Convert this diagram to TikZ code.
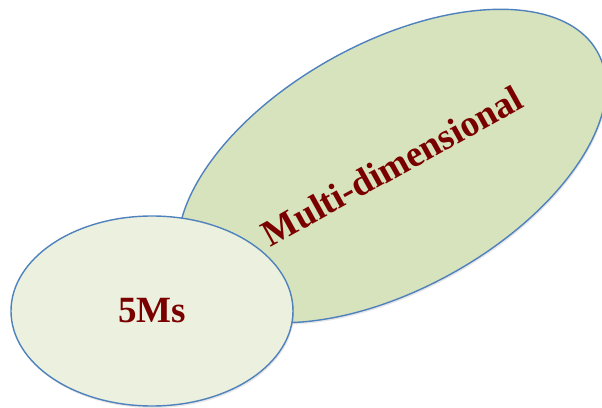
\documentclass[tikz,border=0pt]{standalone}
\usepackage{fontspec}
\setmainfont{Liberation Serif}
\usetikzlibrary{shapes.geometric, shadows}
\definecolor{ovalline}{RGB}{79,129,189}
\definecolor{bigfill}{RGB}{215,227,188}
\definecolor{smallfill}{RGB}{235,241,222}
\definecolor{wordred}{RGB}{122,0,0}

\begin{document}
\begin{tikzpicture}[x=1pt, y=1pt,
    oval/.style={ellipse, draw=ovalline, line width=1.4pt, inner sep=0pt,
        drop shadow={opacity=0.2, shadow xshift=1pt, shadow yshift=-2pt},
        text=wordred, font=\bfseries\fontsize{37}{40}\selectfont}]
        \useasboundingbox (0,0) rectangle (602,407);
        \node (multi) [oval, fill=bigfill, rotate=29, minimum width=470, minimum height=246] at (392,241) {Multi-dimensional};
        \node (fivems) [oval, fill=smallfill, minimum width=282, minimum height=190] at (152,96) {5Ms};

    \end{tikzpicture}
\end{document}
